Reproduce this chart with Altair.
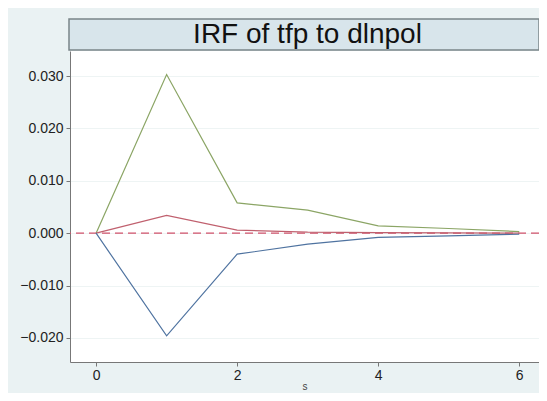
import altair as alt
import pandas as pd

steps = [0, 1, 2, 3, 4, 5, 6]
upper = [0.0, 0.0303, 0.0058, 0.0044, 0.0014, 0.0009, 0.0003]
irf = [0.0, 0.0034, 0.0006, 0.0002, 0.0001, 0.00005, 0.0]
lower = [0.0, -0.0196, -0.0040, -0.0021, -0.0008, -0.0005, -0.0002]
series_names = ["upper", "irf", "lower"]
series_colors = ["#8ba565", "#c0606e", "#4f73a0"]
title_text = "IRF of tfp to dlnpol"
x_ticks = [0, 2, 4, 6]
y_ticks = [-0.02, -0.01, 0.0, 0.01, 0.02, 0.03]

rows = []
for name, vals in zip(series_names, [upper, irf, lower]):
    for s, v in zip(steps, vals):
        rows.append({"s": s, "value": v, "series": name})
df = pd.DataFrame(rows)

W, H = 469, 311

xscale = alt.Scale(domain=[-0.37, 6.28], nice=False, zero=False)
yscale = alt.Scale(domain=[-0.0246, 0.0348], nice=False, zero=False)

lines = alt.Chart(df).mark_line(strokeWidth=1.2).encode(
    x=alt.X("s:Q", scale=xscale, title="s",
            axis=alt.Axis(values=x_ticks, format="d", grid=False, domainColor="#777777",
                          tickColor="#777777", tickSize=4, labelFontSize=14,
                          labelColor="#222222", labelFont="Liberation Sans",
                          titleFontSize=10, titleFontWeight="normal", titleColor="#444444",
                          titleFont="Liberation Sans", titlePadding=-1, labelPadding=2)),
    y=alt.Y("value:Q", scale=yscale, title=None,
            axis=alt.Axis(values=y_ticks, format=".3f", grid=True, gridColor="#eef4f4",
                          domainColor="#777777", tickColor="#777777", tickSize=4,
                          labelFontSize=14, labelColor="#222222", labelFont="Liberation Sans",
                          labelPadding=3)),
    color=alt.Color("series:N", scale=alt.Scale(domain=series_names, range=series_colors),
                    legend=None),
    detail="series:N",
)

zero = alt.Chart(pd.DataFrame({"y": [0.0]})).mark_rule(
    color="#d0506a", strokeDash=[8, 5], strokeWidth=1.2
).encode(y=alt.Y("y:Q", scale=yscale))

title_df = pd.DataFrame({"t": [title_text]})
title_box = alt.Chart(title_df).mark_rect(
    fill="#d8e5eb", stroke="#7a8589", strokeWidth=1.5
).encode(x=alt.value(-1), x2=alt.value(W), y=alt.value(-32), y2=alt.value(-1))
title_txt = alt.Chart(title_df).mark_text(
    fontSize=28, font="Liberation Sans", color="#111111", align="center", baseline="alphabetic"
).encode(text="t:N", x=alt.value(W / 2 + 3), y=alt.value(-8))

chart = alt.layer(zero, lines, title_box, title_txt).properties(
    width=W, height=H,
    autosize=alt.AutoSizeParams(type="none"),
    padding={"left": 62, "top": 43, "right": 0, "bottom": 31},
    background="#eaf2f3",
).configure_view(fill="white", stroke=None)

chart.save("out.html", embed_options={"renderer": "svg", "actions": False})
